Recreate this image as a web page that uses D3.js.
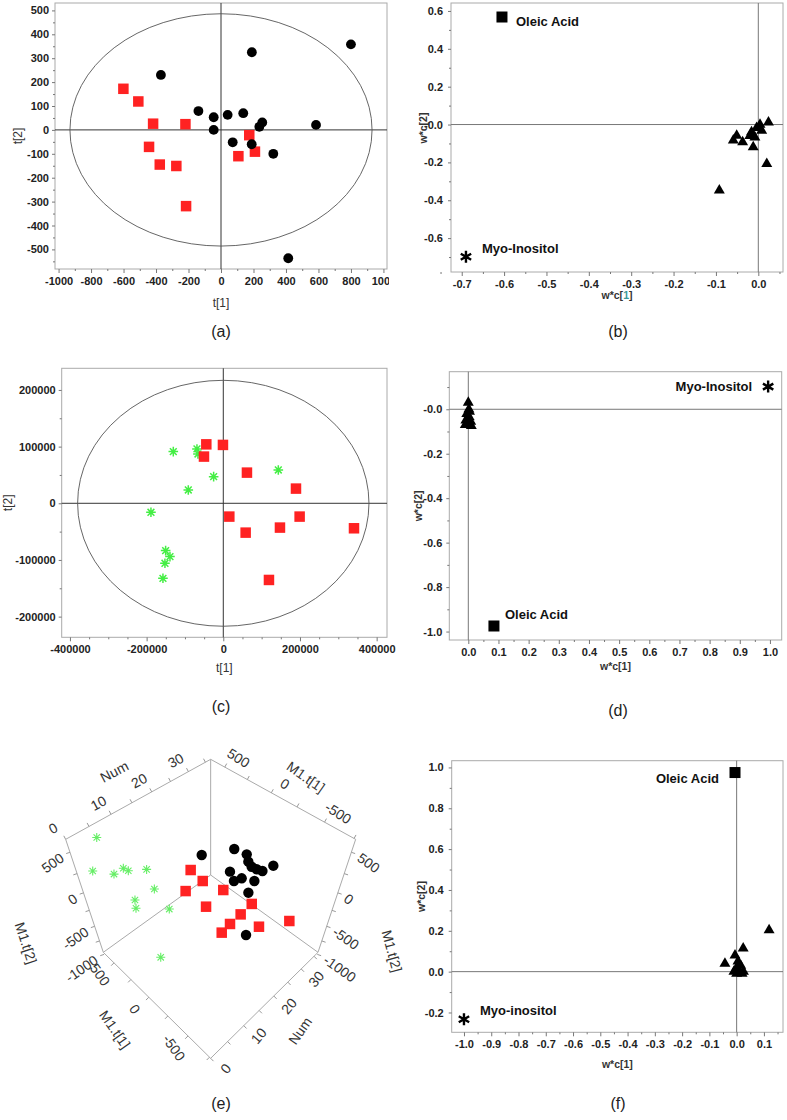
<!DOCTYPE html>
<html><head><meta charset="utf-8">
<script src="https://cdn.jsdelivr.net/npm/d3@7"></script>
<style>
body{margin:0;background:#fff}
svg{display:block}
text{font-family:"Liberation Sans",Arial,sans-serif}
</style>
</head><body>
<svg id="c" width="787" height="1120"></svg>
<script>
// ---------- DATA ----------
// (a) score plot t[1] / t[2]
const aCircles = [[-370,230],[190,325],[800,358],[-139,79],[-45,53],[-45,0],[41,63],[137,70],[254,31],[236,13],[585,21],[72,-52],[189,-60],[322,-100],[414,-537]];
const aSquares = [[-601,172],[-509,119],[-418,26],[-219,24],[-443,-71],[-377,-145],[-275,-151],[-215,-319],[174,-22],[107,-110],[209,-91]];
const aXTicks = [-1000,-800,-600,-400,-200,0,200,400,600,800,1000];
const aYTicks = [500,400,300,200,100,0,-100,-200,-300,-400,-500];
const aEllipse = [930,486];

// (b) loading plot
const bTriangles = [[0.024,0.012],[0.004,0.0],[-0.004,-0.018],[-0.016,-0.04],[-0.008,-0.067],[-0.012,-0.119],[0.008,-0.032],[-0.051,-0.058],[-0.059,-0.084],[-0.037,-0.093],[0.020,-0.207],[-0.092,-0.347],[-0.02,-0.06]];
const bOleic = [-0.605,0.568];
const bMyo = [-0.69,-0.698];
const bXTicks = [-0.7,-0.6,-0.5,-0.4,-0.3,-0.2,-0.1,0];
const bXLabels = ["-0.7","-0.6","-0.5","-0.4","-0.3","-0.2","-0.1","0.0"];
const bYTicks = [0.6,0.4,0.2,0,-0.2,-0.4,-0.6];
const bYLabels = ["0.6","0.4","0.2","-0.0","-0.2","-0.4","-0.6"];

// (c) score plot
const cStars = [[-130400,91200],[-68700,95900],[-66100,87000],[-25200,47000],[-91300,23500],[-188700,-15900],[-150400,-83500],[-139100,-94100],[-152200,-105900],[-157400,-132400],[143500,58800]];
const cSquares = [[-44300,104000],[-900,103000],[-50400,82400],[61700,54100],[189600,25900],[15700,-23500],[199100,-23500],[58300,-51800],[147800,-42900],[340900,-44100],[119100,-135300]];
const cXTicks = [-400000,-200000,0,200000,400000];
const cYTicks = [200000,100000,0,-100000,-200000];
const cEllipse = [380000,217000];

// (d) loading plot
const dTriangles = [[0,0.03],[0.002,0.0],[-0.005,-0.02],[0.003,-0.035],[-0.008,-0.05],[0.008,-0.055],[0,-0.07],[0.01,-0.075],[-0.01,-0.07],[0.004,-0.01]];
const dMyo = [0.994,0.102];
const dOleic = [0.085,-0.975];
const dXTicks = [0,0.1,0.2,0.3,0.4,0.5,0.6,0.7,0.8,0.9,1.0];
const dXLabels = ["0.0","0.1","0.2","0.3","0.4","0.5","0.6","0.7","0.8","0.9","1.0"];
const dYTicks = [0,-0.2,-0.4,-0.6,-0.8,-1.0];
const dYLabels = ["-0.0","-0.2","-0.4","-0.6","-0.8","-1.0"];

// (e) 3D score plot: [Num, M1.t[1], M1.t[2]]
const eStars = [[1,469,411],[2,241,532],[3,432,741],[4,-46,-376],[5,247,468],[6,304,20],[7,381,-208],[8,194,431],[9,191,161],[10,655,7],[11,137,-134]];
const eSquares = [[12,-102,538],[13,-178,445],[14,58,79],[15,-302,380],[16,-87,-72],[17,-502,325],[24,-192,-390],[19,-246,-284],[20,-121,-599],[21,-480,-161],[22,-709,118]];
const eCircles = [[18,-451,-190],[23,239,110],[36,327,-256],[25,-171,371],[26,-162,246],[27,-169,157],[28,-192,111],[29,-222,81],[30,-292,175],[31,195,-334],[32,82,-373],[33,207,-555],[34,-7,-405],[35,79,-703]];
const eNumTicks = [0,10,20,30];
const eT1Ticks = [500,0,-500];
const eT2Ticks = [500,0,-500,-1000];

// (f) loading plot
const fTriangles = [[0.119,0.204],[0.024,0.114],[-0.006,0.08],[-0.043,0.04],[0.0,0.02],[0.01,0.0],[0.02,-0.01],[0.0,-0.01],[0.015,0.03],[-0.01,0.0],[0.005,0.05],[0.025,0.0]];
const fOleic = [-0.006,0.975];
const fMyo = [-1.0,-0.233];
const fXTicks = [-1.0,-0.9,-0.8,-0.7,-0.6,-0.5,-0.4,-0.3,-0.2,-0.1,0,0.1];
const fXLabels = ["-1.0","-0.9","-0.8","-0.7","-0.6","-0.5","-0.4","-0.3","-0.2","-0.1","0.0","0.1"];
const fYTicks = [1.0,0.8,0.6,0.4,0.2,0,-0.2];
const fYLabels = ["1.0","0.8","0.6","0.4","0.2","0.0","-0.2"];

const panelLabels = ["(a)","(b)","(c)","(d)","(e)","(f)"];

// ---------- DRAWING ----------
const svg = d3.select("#c");
const RED = "#ff2222", GREEN = "#44ee44";

function styleAxis(sel){
  sel.select(".domain").remove();
  sel.selectAll(".tick line").attr("stroke","#777");
  sel.selectAll(".tick text").attr("font-size",11).attr("font-weight","bold").attr("fill","#222");
}

function makePanel(o){
  const g = svg.append("g");
  const x = d3.scaleLinear().domain(o.xd).range([o.l,o.r]);
  const y = d3.scaleLinear().domain(o.yd).range([o.b,o.t]);
  g.append("rect").attr("x",o.l).attr("y",o.t).attr("width",o.r-o.l).attr("height",o.b-o.t)
    .attr("fill","none").attr("stroke","#aaa").attr("stroke-width",1);
  const xg = g.append("g").attr("transform",`translate(0,${o.b})`);
  if(o.clipX){
    const id="clip"+Math.round(o.l)+Math.round(o.t);
    svg.append("clipPath").attr("id",id).append("rect").attr("x",0).attr("y",0).attr("width",o.clipX).attr("height",1120);
    xg.attr("clip-path",`url(#${id})`);
  }
  xg.call(d3.axisBottom(x).tickValues(o.xt).tickFormat((d,i)=>o.xl?o.xl[i]:d).tickSize(4).tickPadding(4)).call(styleAxis);
  g.append("g").attr("transform",`translate(0,${o.b})`).call(d3.axisBottom(x).tickValues(o.xm).tickFormat("").tickSize(2)).call(styleAxis);
  g.append("g").attr("transform",`translate(${o.l},0)`)
    .call(d3.axisLeft(y).tickValues(o.yt).tickFormat((d,i)=>o.yl?o.yl[i]:d).tickSize(3).tickPadding(o.yPad||3)).call(styleAxis);
  g.append("g").attr("transform",`translate(${o.l},0)`).call(d3.axisLeft(y).tickValues(o.ym).tickFormat("").tickSize(2)).call(styleAxis);
  // zero lines
  g.append("line").attr("x1",x(0)).attr("x2",x(0)).attr("y1",o.t).attr("y2",o.b).attr("stroke",o.zc||"#666").attr("stroke-width",1);
  g.append("line").attr("x1",o.l).attr("x2",o.r).attr("y1",y(0)).attr("y2",y(0)).attr("stroke",o.zc||"#666").attr("stroke-width",1);
  if(o.ell){
    g.append("ellipse").attr("cx",x(0)).attr("cy",y(0)).attr("rx",x(o.ell[0])-x(0)).attr("ry",y(0)-y(o.ell[1]))
      .attr("fill","none").attr("stroke","#555").attr("stroke-width",0.9);
  }
  // titles
  const xt = g.append("text").attr("x",(o.l+o.r)/2).attr("y",o.xty).attr("text-anchor","middle")
    .attr("font-size",o.tfs||11).attr("font-weight",o.tfw||"bold").attr("fill","#333");
  if(o.xTitleParts){ o.xTitleParts.forEach(p=>xt.append("tspan").attr("fill",p[1]).text(p[0])); } else xt.text(o.xTitle);
  g.append("text").attr("transform",`translate(${o.ytx},${o.yty||(o.t+o.b)/2}) rotate(-90)`).attr("text-anchor","middle")
    .attr("dominant-baseline","middle").attr("font-size",o.tfs||11).attr("font-weight",o.tfw||"bold").attr("fill","#333").text(o.yTitle);
  return {g,x,y};
}

function squares(g,pts,px,py,col,s){
  g.selectAll(null).data(pts).enter().append("rect")
    .attr("x",d=>px(d)-s/2).attr("y",d=>py(d)-s/2).attr("width",s).attr("height",s).attr("fill",col);
}
function circles(g,pts,px,py,r){
  g.selectAll(null).data(pts).enter().append("circle").attr("cx",px).attr("cy",py).attr("r",r).attr("fill","#000");
}
function triangles(g,pts,px,py){
  g.selectAll(null).data(pts).enter().append("path").attr("d",d3.symbol(d3.symbolTriangle,52)())
    .attr("transform",d=>`translate(${px(d)},${py(d)})`).attr("fill","#000");
}
function starPath(r,n,rot){
  let p="";
  for(let i=0;i<n;i++){
    const a=rot+Math.PI*i/n;
    p+=`M${-r*Math.cos(a)},${-r*Math.sin(a)}L${r*Math.cos(a)},${r*Math.sin(a)}`;
  }
  return p;
}
function stars(g,pts,px,py,col,r,n,w){
  g.selectAll(null).data(pts).enter().append("path").attr("d",starPath(r,n,Math.PI/2))
    .attr("transform",d=>`translate(${px(d)},${py(d)})`).attr("stroke",col).attr("stroke-width",w).attr("fill","none");
}
function label(g,x,y,t,anchor){
  g.append("text").attr("x",x).attr("y",y).attr("text-anchor",anchor||"start").attr("dominant-baseline","middle")
    .attr("font-size",13).attr("font-weight","bold").attr("fill","#111").text(t);
}

// ----- (a) -----
{
  const P = makePanel({l:55,r:387,t:3,b:269,xd:[-1022,1022],yd:[-582,531],
    xt:aXTicks,xm:d3.range(-900,1000,200),yt:aYTicks,ym:d3.range(-550,550,100),
    zc:"#333",ell:aEllipse,xTitle:"t[1]",yTitle:"t[2]",xty:307,ytx:19,tfw:"normal",tfs:12,clipX:389,yPad:3});
  const {g,x,y}=P;
  squares(g,aSquares,d=>x(d[0]),d=>y(d[1]),RED,10.5);
  circles(g,aCircles,d=>x(d[0]),d=>y(d[1]),4.9);
}
// ----- (b) -----
{
  const P = makePanel({l:451,r:783,t:3,b:272,xd:[-0.7253,0.0583],yd:[-0.779,0.642],
    xt:bXTicks,xl:bXLabels,xm:d3.range(-0.75,0.06,0.1),yt:bYTicks,yl:bYLabels,ym:[0.5,0.3,0.1,-0.1,-0.3,-0.5,-0.7],
    zc:"#777",xTitleParts:[["w*c[","#333"],["1","#3a9a9a"],["]","#333"]],yTitle:"w*c[2]",xty:299,ytx:424,yty:128,tfs:10.5,yPad:5});
  const {g,x,y}=P;
  triangles(g,bTriangles,d=>x(d[0]),d=>y(d[1]));
  squares(g,[bOleic],d=>x(d[0]),d=>y(d[1]),"#000",11);
  stars(g,[bMyo],d=>x(d[0]),d=>y(d[1]),"#000",6,3,2.4);
  label(g,x(bOleic[0])+14,y(bOleic[1])+6,"Oleic Acid");
  label(g,x(bMyo[0])+16,y(bMyo[1])-7,"Myo-Inositol");
}
// ----- (c) -----
{
  const P = makePanel({l:61.7,r:387,t:368.3,b:637.3,xd:[-421500,427000],yd:[-236500,238200],
    xt:cXTicks,xm:d3.range(-350000,400000,50000).filter(v=>v%200000!==0),yt:cYTicks,ym:d3.range(-200000,230000,50000).filter(v=>v%100000!==0),
    zc:"#333",ell:cEllipse,xTitle:"t[1]",yTitle:"t[2]",xty:672,ytx:9,tfw:"normal",tfs:12,yPad:3});
  const {g,x,y}=P;
  stars(g,cStars,d=>x(d[0]),d=>y(d[1]),GREEN,4.8,4,1.5);
  squares(g,cSquares,d=>x(d[0]),d=>y(d[1]),RED,10.5);
}
// ----- (d) -----
{
  const P = makePanel({l:449.3,r:781.7,t:371.7,b:640,xd:[-0.063,1.039],yd:[-1.038,0.169],
    xt:dXTicks,xl:dXLabels,xm:d3.range(0.05,1.0,0.1),yt:dYTicks,yl:dYLabels,ym:[0.1,-0.1,-0.3,-0.5,-0.7,-0.9],
    zc:"#777",xTitle:"w*c[1]",yTitle:"w*c[2]",xty:670,ytx:419,tfs:10.5,yPad:4});
  const {g,x,y}=P;
  triangles(g,dTriangles,d=>x(d[0]),d=>y(d[1]));
  squares(g,[dOleic],d=>x(d[0]),d=>y(d[1]),"#000",11);
  stars(g,[dMyo],d=>x(d[0]),d=>y(d[1]),"#000",6,3,2.4);
  label(g,x(dMyo[0])-16,y(dMyo[1])+1,"Myo-Inositol","end");
  label(g,x(dOleic[0])+11,y(dOleic[1])-10,"Oleic Acid");
}
// ----- (f) -----
{
  const P = makePanel({l:451.7,r:783,t:760.7,b:1032.3,xd:[-1.045,0.170],yd:[-0.297,1.033],
    xt:fXTicks,xl:fXLabels,xm:d3.range(-0.95,0.16,0.1),yt:fYTicks,yl:fYLabels,ym:[0.9,0.7,0.5,0.3,0.1,-0.1],
    zc:"#777",xTitle:"w*c[1]",yTitle:"w*c[2]",xty:1068,ytx:422,tfs:10.5,yPad:5});
  const {g,x,y}=P;
  triangles(g,fTriangles,d=>x(d[0]),d=>y(d[1]));
  squares(g,[fOleic],d=>x(d[0]),d=>y(d[1]),"#000",11);
  stars(g,[fMyo],d=>x(d[0]),d=>y(d[1]),"#000",6,3,2.4);
  label(g,x(fOleic[0])-16,y(fOleic[1])+7,"Oleic Acid","end");
  label(g,x(fMyo[0])+16,y(fMyo[1])-8,"Myo-inositol");
}
// ----- (e) 3D -----
{
  const g = svg.append("g");
  const U = d3.scaleLinear().domain([0,36.6]).range([1,0]);
  const V = d3.scaleLinear().domain([665,-763]).range([0,1]);
  const W = d3.scaleLinear().domain([-960,640]).range([0,1]);
  const proj = (p)=>{ const [u,v,w]=p; const D = 1-0.1352*(u+v)-0.2246*w;
    return [210.67+92.83*(v-u)/D, 875+(66.87*(u+v)-89.7*w)/D]; };
  const C=[0,0,0],T=[0,0,1],LB=[1,0,0],RB=[0,1,0],LT=[1,0,1],RT=[0,1,1],B=[1,1,0];
  const edges=[[C,T],[C,LB],[C,RB],[T,LT],[T,RT],[LT,LB],[RT,RB],[LB,B],[RB,B]];
  g.selectAll(null).data(edges).enter().append("line")
    .attr("x1",d=>proj(d[0])[0]).attr("y1",d=>proj(d[0])[1]).attr("x2",d=>proj(d[1])[0]).attr("y2",d=>proj(d[1])[1])
    .attr("stroke","#aaa").attr("stroke-width",1);
  const axes=[
    {pt:v=>[U(v),0,1],ticks:eNumTicks,minor:[5,15,25,35],n:[-0.47,-0.88],off:[-12,-10],rot:-28,anchor:"middle",title:"Num",tv:15,toff:[-17,-30],trot:-28},
    {pt:v=>[U(v),1,0],ticks:eNumTicks,minor:[5,15,25,35],n:[0.70,0.71],off:[16,11],rot:-50,anchor:"middle",title:"Num",tv:15,toff:[42,21],trot:-55},
    {pt:v=>[0,V(v),1],ticks:eT1Ticks,minor:[250,-250,-750],n:[0.48,-0.88],off:[13,-8],rot:32,anchor:"middle",title:"M1.t[1]",tv:-250,toff:[8,-29],trot:35},
    {pt:v=>[1,V(v),0],ticks:eT1Ticks,minor:[250,-250,-750],n:[-0.70,0.71],off:[-15,12.5],rot:55,anchor:"middle",title:"M1.t[1]",tv:0,toff:[-35,33],trot:55},
    {pt:v=>[1,0,W(v)],ticks:eT2Ticks,minor:[250,-250,-750],n:[-0.95,0.32],off:[-7,5],rot:-35,anchor:"end",title:"M1.t[2]",tv:-500,toff:[-70,17],trot:72},
    {pt:v=>[0,1,W(v)],ticks:eT2Ticks,minor:[250,-250,-750],n:[0.95,0.32],off:[7,5],rot:35,anchor:"start",title:"M1.t[2]",tv:-500,toff:[64,25],trot:75}
  ];
  axes.forEach(a=>{
    a.ticks.concat(a.minor).forEach(v=>{
      const [px,py]=proj(a.pt(v));
      g.append("line").attr("x1",px).attr("y1",py).attr("x2",px+a.n[0]*4).attr("y2",py+a.n[1]*4).attr("stroke","#999");
    });
    a.ticks.forEach(v=>{
      const [px,py]=proj(a.pt(v));
      g.append("text").attr("transform",`translate(${px+a.off[0]},${py+a.off[1]}) rotate(${a.rot})`)
        .attr("text-anchor",a.anchor).attr("dominant-baseline","middle").attr("font-size",14).attr("fill","#333").text(v);
    });
    const [tx,ty]=proj(a.pt(a.tv));
    g.append("text").attr("transform",`translate(${tx+a.toff[0]},${ty+a.toff[1]}) rotate(${a.trot})`)
      .attr("text-anchor","middle").attr("dominant-baseline","middle").attr("font-size",14).attr("fill","#333").text(a.title);
  });
  const P3 = d=>proj([U(d[0]),V(d[1]),W(d[2])]);
  stars(g,eStars,d=>P3(d)[0],d=>P3(d)[1],"#66ee66",4.5,4,1.1);
  squares(g,eSquares,d=>P3(d)[0],d=>P3(d)[1],RED,10.5);
  circles(g,eCircles,d=>P3(d)[0],d=>P3(d)[1],5.2);
}
// panel labels
const labPos=[[221,333],[618,333],[221,708],[618,712],[221,1105],[618,1105]];
svg.selectAll(null).data(panelLabels).enter().append("text")
  .attr("x",(d,i)=>labPos[i][0]).attr("y",(d,i)=>labPos[i][1]).attr("text-anchor","middle").attr("dominant-baseline","middle")
  .attr("font-family","'Open Sans','Noto Sans',sans-serif").attr("font-size",16).attr("fill","#222").text(d=>d);
</script>
</body></html>
